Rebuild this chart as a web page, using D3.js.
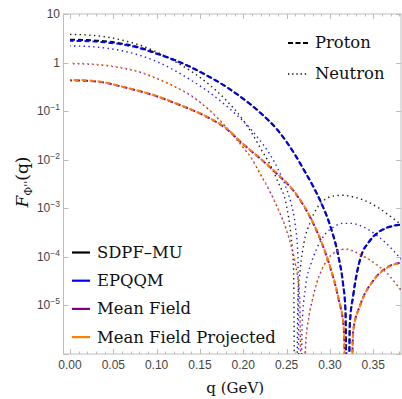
<!DOCTYPE html>
<html>
<head>
<meta charset="utf-8">
<script src="https://cdn.jsdelivr.net/npm/d3@7"></script>
<style>
  html, body { margin: 0; padding: 0; background: #fff; }
  svg { display: block; }
</style>
</head>
<body>
<script>
// ---- data ----
// proton (dashed)
const qSdpfP = [0, 0.02, 0.04, 0.06, 0.08, 0.10, 0.12, 0.14, 0.16, 0.18, 0.20, 0.22, 0.24, 0.26, 0.27, 0.28, 0.29, 0.30, 0.31, 0.315, 0.318, 0.3205, 0.323, 0.327, 0.335, 0.345, 0.355, 0.365, 0.375, 0.385];
const fSdpfP = [2.95, 2.90, 2.75, 2.45, 2.05, 1.55, 1.15, 0.80, 0.52, 0.32, 0.18, 0.092, 0.040, 0.0125, 6.2e-3, 3.0e-3, 1.3e-3, 4.6e-4, 1.0e-4, 3.0e-5, 8e-6, 1e-10, 4e-6, 1.6e-5, 9.0e-5, 2.0e-4, 3.1e-4, 3.9e-4, 4.4e-4, 4.7e-4];
const qEpqqmP = qSdpfP;
const fEpqqmP = [2.80, 2.76, 2.62, 2.36, 1.99, 1.52, 1.13, 0.79, 0.515, 0.318, 0.179, 0.091, 0.040, 0.0124, 6.1e-3, 2.95e-3, 1.28e-3, 4.5e-4, 9.8e-5, 2.9e-5, 7.5e-6, 1e-10, 4.2e-6, 1.7e-5, 9.2e-5, 2.05e-4, 3.15e-4, 3.95e-4, 4.45e-4, 4.75e-4];
const qMfP = [0, 0.02, 0.04, 0.06, 0.08, 0.10, 0.12, 0.14, 0.16, 0.18, 0.20, 0.22, 0.24, 0.26, 0.28, 0.29, 0.30, 0.31, 0.316, 0.3215, 0.327, 0.335, 0.35, 0.365, 0.38, 0.385];
const fMfP = [0.43, 0.42, 0.385, 0.318, 0.258, 0.203, 0.149, 0.107, 0.073, 0.044, 0.0207, 0.0104, 4.9e-3, 2.05e-3, 5.2e-4, 2.05e-4, 6.4e-5, 1.35e-5, 3.4e-6, 1e-10, 3.1e-6, 1.02e-5, 3.25e-5, 5.9e-5, 7.5e-5, 7.7e-5];
const qMfpP = qMfP;
const fMfpP = [0.44, 0.43, 0.39, 0.32, 0.26, 0.205, 0.150, 0.108, 0.074, 0.045, 0.021, 0.0105, 5.0e-3, 2.1e-3, 5.3e-4, 2.1e-4, 6.5e-5, 1.4e-5, 3.5e-6, 1e-10, 3.0e-6, 1.0e-5, 3.2e-5, 5.8e-5, 7.4e-5, 7.6e-5];

// neutron (dotted)
const qSdpfN = [0, 0.02, 0.04, 0.06, 0.08, 0.10, 0.12, 0.14, 0.16, 0.18, 0.20, 0.21, 0.22, 0.23, 0.24, 0.25, 0.255, 0.258, 0.2605, 0.263, 0.266, 0.27, 0.277, 0.285, 0.295, 0.305, 0.315, 0.325, 0.34, 0.355, 0.37, 0.385];
const fSdpfN = [3.8, 3.7, 3.4, 2.9, 2.3, 1.65, 1.08, 0.66, 0.36, 0.17, 0.065, 0.035, 0.017, 8.5e-3, 3.5e-3, 1.1e-3, 2.8e-4, 6e-5, 1e-10, 1.2e-5, 6e-5, 1.9e-4, 5.0e-4, 1.0e-3, 1.55e-3, 1.8e-3, 1.85e-3, 1.75e-3, 1.45e-3, 1.05e-3, 6.8e-4, 4.2e-4];
const qEpqqmN = [0, 0.02, 0.04, 0.06, 0.08, 0.10, 0.12, 0.14, 0.16, 0.18, 0.20, 0.21, 0.22, 0.23, 0.24, 0.25, 0.255, 0.26, 0.263, 0.2655, 0.268, 0.272, 0.278, 0.285, 0.295, 0.305, 0.315, 0.325, 0.335, 0.345, 0.355, 0.365, 0.375, 0.385];
const fEpqqmN = [2.2, 2.15, 2.0, 1.75, 1.42, 1.05, 0.70, 0.43, 0.25, 0.13, 0.062, 0.040, 0.024, 0.0135, 6.5e-3, 2.5e-3, 1.3e-3, 4.5e-4, 1.1e-4, 1e-10, 4e-6, 2.5e-5, 7e-5, 1.5e-4, 3.0e-4, 4.2e-4, 4.9e-4, 4.9e-4, 4.4e-4, 3.6e-4, 2.7e-4, 1.9e-4, 1.25e-4, 8.0e-5];
const qMfN = [0, 0.02, 0.04, 0.06, 0.08, 0.10, 0.12, 0.14, 0.16, 0.18, 0.20, 0.21, 0.22, 0.23, 0.24, 0.25, 0.255, 0.26, 0.265, 0.269, 0.272, 0.276, 0.28, 0.285, 0.29, 0.297, 0.305, 0.312, 0.32, 0.327, 0.335, 0.345, 0.355, 0.365, 0.375, 0.385];
const fMfN = [0.95, 0.93, 0.87, 0.77, 0.64, 0.47, 0.325, 0.205, 0.108, 0.047, 0.0177, 0.0103, 4.9e-3, 2.35e-3, 9.8e-4, 3.5e-4, 1.75e-4, 7.3e-5, 1.55e-5, 1e-10, 1.6e-6, 6.2e-6, 1.35e-5, 3.0e-5, 5.1e-5, 8.8e-5, 1.22e-4, 1.42e-4, 1.44e-4, 1.32e-4, 1.12e-4, 8.9e-5, 6.7e-5, 4.8e-5, 3.0e-5, 1.75e-5];
const qMfpN = qMfN;
const fMfpN = [0.97, 0.95, 0.89, 0.79, 0.65, 0.48, 0.33, 0.21, 0.11, 0.048, 0.018, 0.0105, 5.0e-3, 2.4e-3, 1.0e-3, 3.6e-4, 1.8e-4, 7.5e-5, 1.6e-5, 1e-10, 1.5e-6, 6e-6, 1.3e-5, 2.9e-5, 5.0e-5, 8.6e-5, 1.2e-4, 1.4e-4, 1.42e-4, 1.3e-4, 1.1e-4, 8.8e-5, 6.6e-5, 4.7e-5, 2.9e-5, 1.7e-5];

const models = ["SDPF\u2013MU", "EPQQM", "Mean Field", "Mean Field Projected"];
const modelColors = ["#000000", "#0000ff", "#800080", "#ff8000"];
const nucleons = ["Proton", "Neutron"];
const xTickValues = [0, 0.05, 0.10, 0.15, 0.20, 0.25, 0.30, 0.35];
const yTickExps = [1, 0, -1, -2, -3, -4, -5];

// series table built from the arrays above
const series = [
  {model: 0, nucleon: 0, q: qSdpfP, f: fSdpfP},
  {model: 0, nucleon: 1, q: qSdpfN, f: fSdpfN},
  {model: 1, nucleon: 0, q: qEpqqmP, f: fEpqqmP},
  {model: 1, nucleon: 1, q: qEpqqmN, f: fEpqqmN},
  {model: 2, nucleon: 0, q: qMfP, f: fMfP},
  {model: 2, nucleon: 1, q: qMfN, f: fMfN},
  {model: 3, nucleon: 0, q: qMfpP, f: fMfpP},
  {model: 3, nucleon: 1, q: qMfpN, f: fMfpN}
];

// ---- layout ----
const width = 402, height = 399;
const plotL = 63.5, plotR = 401, plotT = 14, plotB = 354;

const x = d3.scaleLinear().domain([-0.0075, 0.3815]).range([plotL, plotR - 0.5]);
const y = d3.scaleLog().domain([1e-6, 10]).range([plotB, plotT]);

const svg = d3.select("body").append("svg")
    .attr("width", width)
    .attr("height", height);

svg.append("defs").append("clipPath")
    .attr("id", "plot-clip")
  .append("rect")
    .attr("x", plotL).attr("y", plotT)
    .attr("width", plotR - plotL).attr("height", plotB - plotT);

// frame
const frameColor = "#bdbdbd";
svg.append("rect")
    .attr("x", plotL).attr("y", plotT)
    .attr("width", plotR - plotL).attr("height", plotB - plotT)
    .attr("fill", "none")
    .attr("stroke", frameColor)
    .attr("stroke-width", 1);

// x ticks (major + minor, bottom and top, pointing inward)
const ticksG = svg.append("g").attr("stroke", frameColor).attr("stroke-width", 1);
const minorX = d3.range(0, 39).map(i => i / 100);
minorX.forEach(v => {
  const major = xTickValues.some(t => Math.abs(t - v) < 1e-9);
  const len = major ? 5 : 2.5;
  const px = Math.round(x(v)) + 0.5;
  ticksG.append("line").attr("x1", px).attr("x2", px).attr("y1", plotB).attr("y2", plotB - len);
  ticksG.append("line").attr("x1", px).attr("x2", px).attr("y1", plotT).attr("y2", plotT + len);
});
// y ticks (left and right)
yTickExps.concat([-6]).forEach(e => {
  const py = Math.round(y(Math.pow(10, e))) + 0.5;
  ticksG.append("line").attr("x1", plotL).attr("x2", plotL + 5).attr("y1", py).attr("y2", py);
  ticksG.append("line").attr("x1", plotR).attr("x2", plotR - 5).attr("y1", py).attr("y2", py);
});

// x tick labels
const fmt = d3.format(".2f");
svg.append("g")
    .attr("font-family", "'Liberation Sans', Arial, sans-serif")
    .attr("font-size", 12)
    .attr("fill", "#444")
    .attr("text-anchor", "middle")
  .selectAll("text")
  .data(xTickValues)
  .join("text")
    .attr("x", d => x(d))
    .attr("y", 369)
    .text(d => fmt(d));

// y tick labels
const yLab = svg.append("g")
    .attr("font-family", "'Liberation Sans', Arial, sans-serif")
    .attr("font-size", 12)
    .attr("fill", "#444")
    .attr("text-anchor", "end");
yTickExps.forEach(e => {
  const t = yLab.append("text").attr("x", 60).attr("y", y(Math.pow(10, e)) + 4);
  if (e === 1) t.text("10");
  else if (e === 0) t.text("1");
  else {
    t.append("tspan").text("10");
    t.append("tspan").attr("font-size", 8.5).attr("dy", -5).text("\u2212" + (-e));
  }
});

// curves
const line = d3.line()
    .x(d => x(d[0]))
    .y(d => y(d[1]))
    .curve(d3.curveMonotoneX);

const curves = svg.append("g").attr("clip-path", "url(#plot-clip)");
series.forEach(s => {
  const pts = s.q.map((q, i) => [q, s.f[i]]);
  const proton = s.nucleon === 0;
  curves.append("path")
      .attr("d", line(pts))
      .attr("fill", "none")
      .attr("stroke", modelColors[s.model])
      .attr("stroke-width", proton ? 2 : 1.4)
      .attr("stroke-dasharray", proton ? "5,3" : "1.4,3.4")
      .attr("stroke-dashoffset", proton ? s.model * 1.5 : s.model * 0.8)
      .attr("opacity", proton ? 0.95 : 0.9);
});

// model legend (bottom left)
const legendFont = "'DejaVu Serif', serif";
const leg = svg.append("g").attr("font-family", legendFont).attr("font-size", 16.4).attr("fill", "#111");
models.forEach((m, i) => {
  const ly = 252.5 + i * 28.2;
  leg.append("line")
      .attr("x1", 72).attr("x2", 90)
      .attr("y1", ly).attr("y2", ly)
      .attr("stroke", modelColors[i])
      .attr("stroke-width", 2.2);
  leg.append("text").attr("x", 97).attr("y", ly + 5.5).text(m);
});

// nucleon legend (top right)
const leg2 = svg.append("g").attr("font-family", legendFont).attr("font-size", 16.4).attr("fill", "#111");
nucleons.forEach((n, i) => {
  const ly = 43 + i * 31;
  leg2.append("line")
      .attr("x1", 288).attr("x2", 308)
      .attr("y1", ly).attr("y2", ly)
      .attr("stroke", "#000")
      .attr("stroke-width", i === 0 ? 2.2 : 1.3)
      .attr("stroke-dasharray", i === 0 ? "5,2.5" : "1.3,2.9");
  leg2.append("text").attr("x", 315).attr("y", ly + 5).text(n);
});

// axis titles
svg.append("text")
    .attr("x", (plotL + plotR) / 2 + 3)
    .attr("y", 393)
    .attr("text-anchor", "middle")
    .attr("font-family", legendFont)
    .attr("font-size", 15)
    .attr("fill", "#111")
    .text("q (GeV)");

const yt = svg.append("text")
    .attr("transform", "translate(28,182) rotate(-90)")
    .attr("text-anchor", "middle")
    .attr("font-family", legendFont)
    .attr("font-size", 17)
    .attr("fill", "#111");
yt.append("tspan").attr("font-style", "italic").text("F");
yt.append("tspan").attr("font-size", 11).attr("dy", 4).text("\u03A6''");
yt.append("tspan").attr("dy", -4).text("(q)");
</script>
</body>
</html>
